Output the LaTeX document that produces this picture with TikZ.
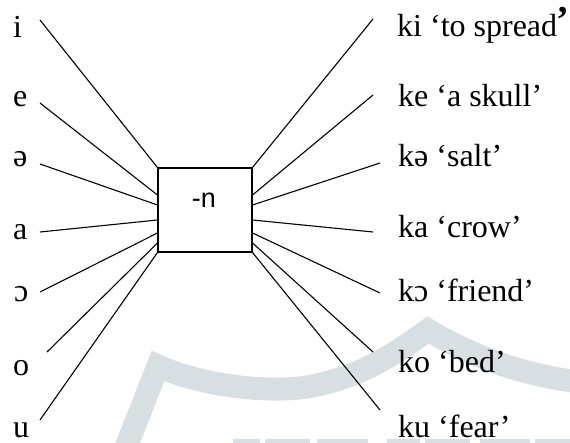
\documentclass[tikz,border=0pt]{standalone}
\usepackage{fontspec}
\setmainfont{Liberation Serif}
\setsansfont{Liberation Sans}
\definecolor{wm}{RGB}{216,223,227}
\newcommand{\lblfont}{\fontsize{32}{32}\selectfont}
\begin{document}
\begin{tikzpicture}[x=1pt,y=-1pt,
  lab/.style={anchor=base west,inner sep=0pt,font=\lblfont},
  conn/.style={line width=1.1pt,black},
  boxn/.style={draw,line width=1.1pt,minimum width=94pt,minimum height=84pt,inner sep=0pt},
  boxlab/.style={anchor=base,inner sep=0pt,font=\sffamily\fontsize{27}{27}\selectfont},
  wmark/.style={wm,line width=23pt}]
\useasboundingbox (0,0) rectangle (570,443);
% watermark
\draw[wmark] (125,450) -- (158,366) .. controls (200,385) and (260,392) .. (300,388)
  .. controls (360,380) and (400,350) .. (428,330) .. controls (470,355) and (520,375) .. (580,382);
\foreach \a/\b in {233/260,265/310,317/368,387/420,425/470,480/530,535/570}
  \fill[wm] (\a,439) rectangle (\b,443);
% box
\node[boxn] (box) at (205,210) {};
\node[boxlab] (boxtext) at (204,208) {-n};
% left labels
\node[lab] (li) at (13,38) {i};
\node[lab] (le) at (13,107) {e};
\node[lab] (lschwa) at (13,167) {ə};
\node[lab] (la) at (13,240) {a};
\node[lab] (lopen) at (14,302) {ɔ};
\node[lab] (lo) at (13,375) {o};
\node[lab] (lu) at (13,437) {u};
% right labels
\node[lab] (ri) at (397,37) {ki ‘to spread\kern-1pt\raisebox{4pt}{\fontsize{38}{38}\selectfont\bfseries ’}\kern-6pt};
\node[lab] (re) at (398,107) {ke ‘a skull’};
\node[lab] (rschwa) at (398,167) {kə ‘salt’};
\node[lab] (ra) at (398,238) {ka ‘crow’};
\node[lab] (ropen) at (398,302) {kɔ ‘friend’};
\node[lab] (ro) at (398,373) {ko ‘bed’};
\node[lab] (ru) at (398,437) {ku ‘fear’};
% free ends
\coordinate (ci) at (40,20);
\coordinate (ce) at (40,103);
\coordinate (cschwa) at (40,164);
\coordinate (ca) at (40,232);
\coordinate (copen) at (40,292);
\coordinate (co) at (47,352);
\coordinate (cu) at (40,420);
\coordinate (di) at (373,19);
\coordinate (de) at (373,95);
\coordinate (dschwa) at (380,163);
\coordinate (da) at (373,232);
\coordinate (dopen) at (380,293);
\coordinate (do) at (373,352);
\coordinate (du) at (380,410);
% connectors left
\draw[conn] (ci) -- (box.north west);
\draw[conn] (ce) -- ([yshift=15pt]box.west);
\draw[conn] (cschwa) -- ([yshift=5pt]box.west);
\draw[conn] (ca) -- ([yshift=-10pt]box.west);
\draw[conn] (copen) -- ([yshift=-23pt]box.west);
\draw[conn] (co) -- ([yshift=-33pt]box.west);
\draw[conn] (cu) -- (box.south west);
% connectors right
\draw[conn] (di) -- (box.north east);
\draw[conn] (de) -- ([yshift=15pt]box.east);
\draw[conn] (dschwa) -- ([yshift=5pt]box.east);
\draw[conn] (da) -- ([yshift=-10pt]box.east);
\draw[conn] (dopen) -- ([yshift=-23pt]box.east);
\draw[conn] (do) -- ([yshift=-33pt]box.east);
\draw[conn] (du) -- (box.south east);
\end{tikzpicture}
\end{document}
